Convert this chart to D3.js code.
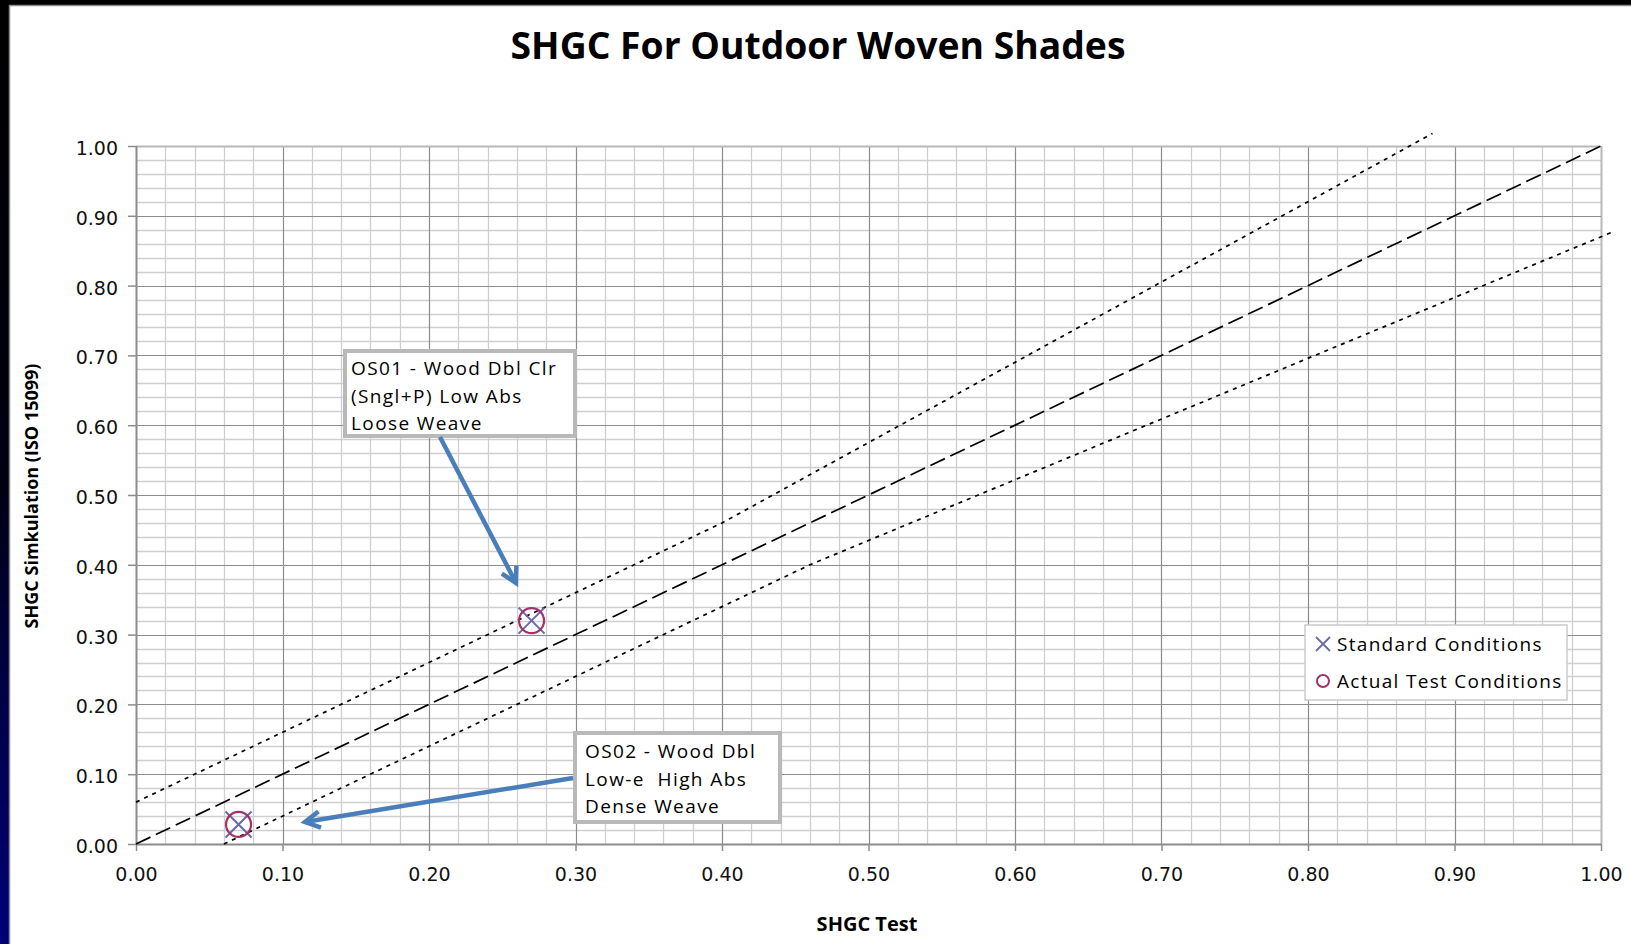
<!DOCTYPE html>
<html><head><meta charset="utf-8">
<script src="https://cdn.jsdelivr.net/npm/d3@7/dist/d3.min.js"></script>
<style>html,body{margin:0;padding:0;background:#fff;overflow:hidden}</style>
</head><body>
<svg id="c" width="1631" height="944"></svg>
<script>
// ---- data ----
const title = "SHGC For Outdoor Woven Shades";
const xTitle = "SHGC Test";
const yTitle = "SHGC Simkulation (ISO 15099)";
const tickValues = [0,0.1,0.2,0.3,0.4,0.5,0.6,0.7,0.8,0.9,1.0];
const minorStep = 0.02;
// reference lines
const upperX = [0, 0.4, 0.885], upperY = [0.06, 0.46, 1.018];
const equalX = [0, 1], equalY = [0, 1];
const lowerX = [0.06, 0.46, 1.007], lowerY = [0, 0.40, 0.876];
// series
const seriesNames = ["Standard Conditions", "Actual Test Conditions"];
const standardX = [0.27, 0.07], standardY = [0.32, 0.028];
const actualX = [0.27, 0.07], actualY = [0.32, 0.028];
// annotations
const note1 = ["OS01 - Wood Dbl Clr", "(Sngl+P) Low Abs", "Loose Weave"];
const note2 = ["OS02 - Wood Dbl", "Low-e  High Abs", "Dense Weave"];

const svg = d3.select("#c");
const W = 1631, H = 944;
const L = 136, R = 1601, T = 146, B = 844;
const x = d3.scaleLinear().domain([0,1]).range([L,R]);
const y = d3.scaleLinear().domain([0,1]).range([B,T]);
const FONT = "'Open Sans', sans-serif";
const NUMFONT = "'DejaVu Sans', sans-serif";

// background frame
const defs = svg.append("defs");
const g1 = defs.append("linearGradient").attr("id","strip").attr("x1",0).attr("y1",0).attr("x2",0).attr("y2",1);
g1.append("stop").attr("offset","0%").attr("stop-color","#000");
g1.append("stop").attr("offset","50%").attr("stop-color","#000010");
g1.append("stop").attr("offset","75%").attr("stop-color","#00004a");
g1.append("stop").attr("offset","100%").attr("stop-color","#000078");
svg.append("rect").attr("x",0).attr("y",0).attr("width",W).attr("height",H).attr("fill","#fff");
svg.append("rect").attr("x",0).attr("y",0).attr("width",9).attr("height",H).attr("fill","url(#strip)");
svg.append("rect").attr("x",0).attr("y",0).attr("width",W).attr("height",5).attr("fill","#000");
svg.append("line").attr("x1",9.5).attr("x2",9.5).attr("y1",5).attr("y2",H).attr("stroke","#8a8a8a").attr("stroke-width",1.5);
svg.append("line").attr("x1",9).attr("x2",W).attr("y1",5.5).attr("y2",5.5).attr("stroke","#8a8a8a").attr("stroke-width",1.5);

// grid
const minor = d3.range(0, 1.0001, minorStep).filter(v => Math.abs(v*10 - Math.round(v*10)) > 1e-6);
const grid = svg.append("g");
grid.selectAll(".vmin").data(minor).join("line")
  .attr("x1",d=>Math.round(x(d))+0.5).attr("x2",d=>Math.round(x(d))+0.5).attr("y1",T).attr("y2",B)
  .attr("stroke","#cfcfcf").attr("stroke-width",1.3);
grid.selectAll(".hmin").data(minor).join("line")
  .attr("y1",d=>Math.round(y(d))+0.5).attr("y2",d=>Math.round(y(d))+0.5).attr("x1",L).attr("x2",R)
  .attr("stroke","#cfcfcf").attr("stroke-width",1.3);
grid.selectAll(".vmaj").data(tickValues.slice(1)).join("line")
  .attr("x1",d=>Math.round(x(d))+0.5).attr("x2",d=>Math.round(x(d))+0.5).attr("y1",T).attr("y2",B)
  .attr("stroke",d=>d===1?"#b8b8b8":"#8c8c8c").attr("stroke-width",d=>d===1?2:1.2);
grid.selectAll(".hmaj").data(tickValues.slice(1)).join("line")
  .attr("y1",d=>Math.round(y(d))+0.5).attr("y2",d=>Math.round(y(d))+0.5).attr("x1",L).attr("x2",R)
  .attr("stroke",d=>d===1?"#b8b8b8":"#8c8c8c").attr("stroke-width",d=>d===1?2:1.2);

// axes
const fmt = d3.format(".2f");
const yAxis = svg.append("g").attr("transform",`translate(${L},0)`)
  .call(d3.axisLeft(y).tickValues(tickValues).tickFormat(fmt).tickSize(8).tickPadding(10));
const xAxis = svg.append("g").attr("transform",`translate(0,${B})`)
  .call(d3.axisBottom(x).tickValues(tickValues).tickFormat(fmt).tickSize(7).tickPadding(17));
[yAxis,xAxis].forEach(a=>{
  a.select(".domain").attr("stroke","#8c8c8c").attr("stroke-width",2);
  a.selectAll(".tick line").attr("stroke","#8c8c8c").attr("stroke-width",1.5);
  a.selectAll("text").attr("font-family",NUMFONT).attr("font-size",19).attr("fill","#111");
});
yAxis.selectAll("text").attr("dy","0.45em");
xAxis.select(".domain").attr("d",`M${L},0.5H${R}`);
yAxis.select(".domain").attr("d",`M0.5,${T}V${B}`);

// titles
svg.append("text").attr("x",818).attr("y",59).attr("text-anchor","middle")
  .attr("font-family",FONT).attr("font-weight",700).attr("font-size",37.3).attr("fill","#000").text(title);
svg.append("text").attr("x",867).attr("y",931).attr("text-anchor","middle")
  .attr("font-family",FONT).attr("font-weight",700).attr("font-size",20).attr("fill","#000").text(xTitle);
svg.append("text").attr("transform","translate(38,496) rotate(-90)").attr("text-anchor","middle")
  .attr("font-family",FONT).attr("font-weight",700).attr("font-size",18).attr("fill","#000").text(yTitle);

// reference lines
const line = d3.line().x(d=>x(d[0])).y(d=>y(d[1]));
const refs = [
  {xs:upperX, ys:upperY, dash:"4,5"},
  {xs:equalX, ys:equalY, dash:"16,6"},
  {xs:lowerX, ys:lowerY, dash:"4,5"}
];
svg.append("g").selectAll("path").data(refs).join("path")
  .attr("d",r=>line(r.xs.map((v,i)=>[v,r.ys[i]])))
  .attr("fill","none").attr("stroke","#000").attr("stroke-width",1.7)
  .attr("stroke-dasharray",r=>r.dash);

// annotation boxes
function noteBox(lines, bx, by, bw, bh, tx, ty0) {
  const g = svg.append("g");
  g.append("rect").attr("x",bx).attr("y",by).attr("width",bw).attr("height",bh)
    .attr("fill","#fff").attr("stroke","#b9b9b9").attr("stroke-width",4);
  g.selectAll("text").data(lines).join("text")
    .attr("x",tx).attr("y",(d,i)=>ty0+i*27.5)
    .attr("font-family",FONT).attr("font-size",19).attr("letter-spacing",1.4)
    .attr("xml:space","preserve").style("white-space","pre")
    .attr("fill","#000").text(d=>d);
}
noteBox(note1, 345, 351, 230, 85, 351, 375);
noteBox(note2, 575, 733, 205, 89, 585, 758);

// arrows
const blue = "#4a7ebb";
function arrow(x1,y1,x2,y2){
  const g = svg.append("g").attr("stroke",blue).attr("stroke-width",4.5).attr("fill","none").attr("stroke-linecap","butt");
  g.append("line").attr("x1",x1).attr("y1",y1).attr("x2",x2).attr("y2",y2);
  const a = Math.atan2(y2-y1,x2-x1), len=17, sp=0.5;
  const p1=[x2-len*Math.cos(a-sp), y2-len*Math.sin(a-sp)];
  const p2=[x2-len*Math.cos(a+sp), y2-len*Math.sin(a+sp)];
  g.append("path").attr("d",`M${p1[0]},${p1[1]}L${x2},${y2}L${p2[0]},${p2[1]}`).attr("stroke-linejoin","miter");
}
arrow(440,437,516,583);
arrow(573,778,305,822);

// series markers
const xColor = "#6a6aaa", oColor = "#a3316a";
const sx = svg.append("g");
standardX.forEach((v,i)=>{
  const cx = x(v), cy = y(standardY[i]), s = 13;
  sx.append("path").attr("d",`M${cx-s},${cy-s}L${cx+s},${cy+s}M${cx-s},${cy+s}L${cx+s},${cy-s}`)
    .attr("stroke",xColor).attr("stroke-width",2).attr("fill","none");
});
svg.append("g").selectAll("circle").data(actualX).join("circle")
  .attr("cx",d=>x(d)).attr("cy",(d,i)=>y(actualY[i])).attr("r",12.5)
  .attr("fill","none").attr("stroke",oColor).attr("stroke-width",2.2);

// legend
const lg = svg.append("g");
lg.append("rect").attr("x",1305).attr("y",625).attr("width",262).attr("height",75)
  .attr("fill","#fff").attr("stroke","#cccccc").attr("stroke-width",1.5);
lg.append("path").attr("d","M1316,637L1330,651M1316,651L1330,637").attr("stroke",xColor).attr("stroke-width",1.8);
lg.append("circle").attr("cx",1323).attr("cy",681).attr("r",6).attr("fill","none").attr("stroke",oColor).attr("stroke-width",2);
lg.selectAll("text").data(seriesNames).join("text")
  .attr("x",1337).attr("y",(d,i)=>651+i*37)
  .attr("font-family",FONT).attr("font-size",19).attr("letter-spacing",1.3).attr("fill","#000").text(d=>d);
</script>
</body></html>
